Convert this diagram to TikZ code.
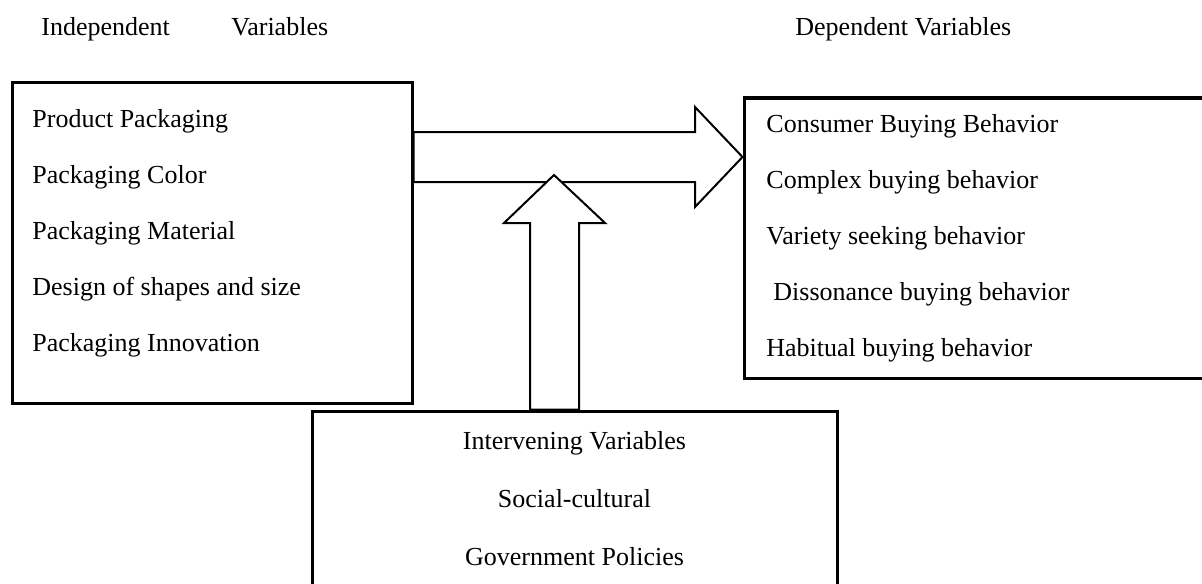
\documentclass[tikz,border=0pt]{standalone}
\usepackage{fontspec}
\setmainfont{Liberation Serif}
\begin{document}
\begin{tikzpicture}[x=0.5pt,y=-0.5pt,
  box/.style={draw=black,line width=1.5pt,inner sep=0pt,fill=white},
  lbl/.style={anchor=base west,inner sep=0pt,font=\fontsize{13}{15}\selectfont},
  clbl/.style={anchor=base,inner sep=0pt,font=\fontsize{13}{15}\selectfont},
  bigarrow/.style={draw=black,line width=1pt,fill=white,line join=miter}]
\useasboundingbox (0,0) rectangle (1202,583);
\clip (0,0) rectangle (1202,583);
% boxes
\node[box,minimum width=200pt,minimum height=160pt] (indep) at (212,243) {};
\node[box,minimum width=243pt,minimum height=140pt] (dep) at (987,238) {};
\node[box,minimum width=262.5pt,minimum height=100pt] (interv) at (574.5,511) {};
% headers
\node[lbl] (h1) at (41,36) {Independent};
\node[lbl] (h2) at (231,36) {Variables};
\node[lbl] (h3) at (795,36) {Dependent Variables};
% left box texts
\node[lbl] (i1) at (32,127) {Product Packaging};
\node[lbl] (i2) at (32,183) {Packaging Color};
\node[lbl] (i3) at (32,239) {Packaging Material};
\node[lbl] (i4) at (32,295) {Design of shapes and size};
\node[lbl] (i5) at (32,351) {Packaging Innovation};
% right box texts
\node[lbl] (d1) at (766,132) {Consumer Buying Behavior};
\node[lbl] (d2) at (766,188) {Complex buying behavior};
\node[lbl] (d3) at (766,244) {Variety seeking behavior};
\node[lbl] (d4) at (773,300) {Dissonance buying behavior};
\node[lbl] (d5) at (766,356) {Habitual buying behavior};
% bottom box texts
\node[clbl] (v1) at (574.5,449) {Intervening Variables};
\node[clbl] (v2) at (574.5,507) {Social-cultural};
\node[clbl] (v3) at (574.5,565) {Government Policies};
% block arrow from independent to dependent
\draw[bigarrow] (indep.east |- 0,132) -- (695,132) -- (695,107) -- (dep.west |- 0,157)
  -- (695,207) -- (695,182) -- (indep.east |- 0,182) -- cycle;
% block arrow from intervening upward
\draw[bigarrow] (530,0 |- interv.north) -- (530,223) -- (504,223) -- (554,175)
  -- (605,223) -- (579,223) -- (579,0 |- interv.north) -- cycle;
\end{tikzpicture}
\end{document}
